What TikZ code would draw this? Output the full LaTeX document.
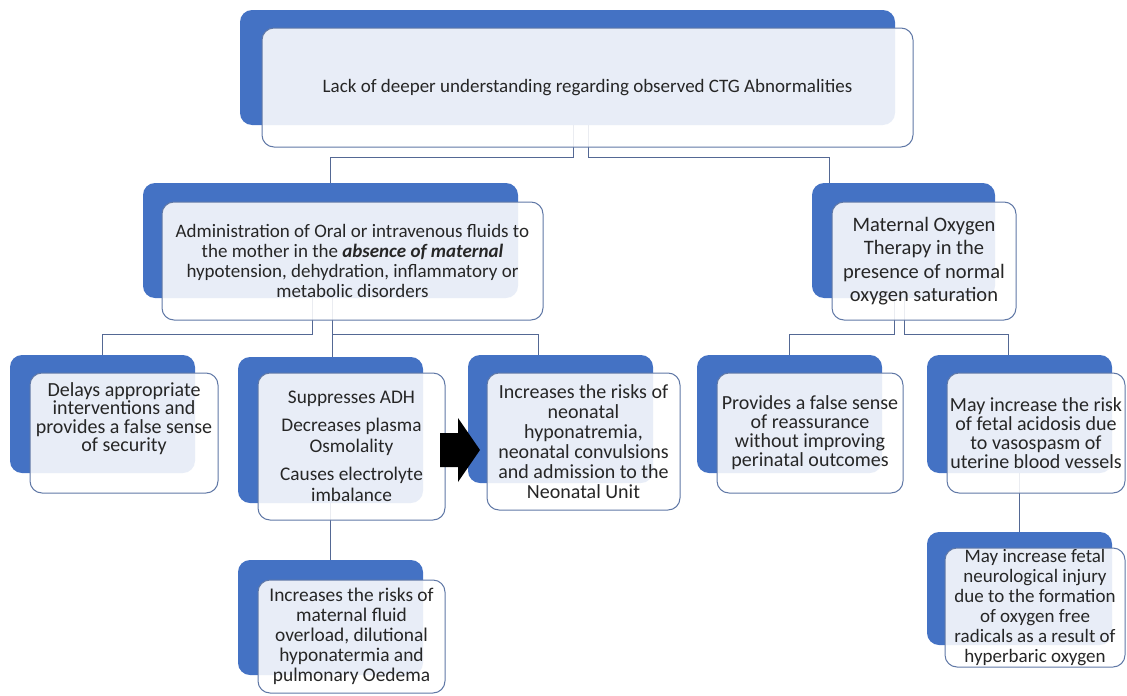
\documentclass[tikz,border=0pt]{standalone}
\usepackage{fontspec}
\setmainfont{Carlito}

\definecolor{cardblue}{RGB}{68,114,196}
\definecolor{cardline}{RGB}{96,120,166}
\definecolor{linkline}{RGB}{84,104,148}
\definecolor{inktext}{RGB}{38,38,38}

\pgfdeclarelayer{links}
\pgfsetlayers{links,main}

\tikzset{
  backbox/.style={rectangle, rounded corners=12pt, fill=cardblue, inner sep=0pt},
  frontbox/.style={rectangle, rounded corners=12pt, draw=cardline, line width=1pt,
    fill=white, fill opacity=0.88, text opacity=1, text=inktext, align=center, inner sep=2pt},
  link/.style={draw=linkline, line width=1pt},
}

\begin{document}
\begin{tikzpicture}[x=1pt, y=-1pt, line join=round]

  %% ════ top card ════
  \node[backbox, minimum width=655pt, minimum height=115pt] (topB) at (567.5,67.5) {};
  \node[frontbox, minimum width=651pt, minimum height=119pt, font=\fontsize{19}{22}\selectfont] (top) at (587.5,87.5)
    {Lack of deeper understanding regarding observed CTG Abnormalities};

  %% ════ second row ════
  \node[backbox, minimum width=375pt, minimum height=115pt] (fluidsB) at (330.5,240.5) {};
  \node[frontbox, minimum width=381pt, minimum height=118pt, font=\fontsize{19}{20}\selectfont] (fluids) at (352.5,261)
    {Administration of Oral or intravenous fluids to\\ the mother in the \textbf{\textit{absence of maternal}}\\
     hypotension, dehydration, inflammatory or\\ metabolic disorders};

  \node[backbox, minimum width=183pt, minimum height=115pt] (oxygenB) at (903.5,240.5) {};
  \node[frontbox, minimum width=184pt, minimum height=118pt, font=\fontsize{20.5}{23.5}\selectfont] (oxygen) at (924,261)
    {Maternal Oxygen\\ Therapy in the\\ presence of normal\\ oxygen saturation};

  %% ════ third row ════
  % text sits high in this card: an empty last line lifts it
  \node[backbox, minimum width=185pt, minimum height=118pt] (delaysB) at (102.5,414) {};
  \node[frontbox, minimum width=188pt, minimum height=120pt, font=\fontsize{20}{18.5}\selectfont] (delays) at (124,433)
    {Delays appropriate\\ interventions and\\ provides a false sense\\ of security\\[13pt]\mbox{}};

  \node[backbox, minimum width=185pt, minimum height=146pt] (adhB) at (330.5,430) {};
  \node[frontbox, minimum width=187pt, minimum height=147pt, font=\fontsize{19.3}{21}\selectfont] (adh) at (351.5,446.5)
    {Suppresses ADH\\[7pt] Decreases plasma\\ Osmolality\\[7pt] Causes electrolyte\\ imbalance};

  \node[backbox, minimum width=185pt, minimum height=128pt] (neoB) at (560.5,419) {};
  \node[frontbox, minimum width=193pt, minimum height=137pt, font=\fontsize{20}{20}\selectfont] (neo) at (583.5,441.5)
    {Increases the risks of\\ neonatal\\ hyponatremia,\\ neonatal convulsions\\ and admission to the\\ Neonatal Unit};

  \node[backbox, minimum width=185pt, minimum height=118pt] (reassureB) at (789.5,414) {};
  \node[frontbox, minimum width=186pt, minimum height=120pt, font=\fontsize{20}{19}\selectfont] (reassure) at (810,433)
    {Provides a false sense\\ of reassurance\\ without improving\\ perinatal outcomes};

  \node[backbox, minimum width=185pt, minimum height=118pt] (acidB) at (1019.5,414) {};
  \node[frontbox, minimum width=178pt, minimum height=120pt, font=\fontsize{20}{19}\selectfont] (acid) at (1036,433)
    {May increase the risk\\ of fetal acidosis due\\ to vasospasm of\\ uterine blood vessels};

  %% ════ bottom row ════
  \node[backbox, minimum width=185pt, minimum height=115pt] (fluidriskB) at (330.5,617.5) {};
  \node[frontbox, minimum width=187pt, minimum height=113pt, font=\fontsize{19.4}{20}\selectfont] (fluidrisk) at (351.5,636.5)
    {Increases the risks of\\ maternal fluid\\ overload, dilutional\\ hyponatermia and\\ pulmonary Oedema};

  \node[backbox, minimum width=185pt, minimum height=113pt] (neuroB) at (1019.5,588.5) {};
  \node[frontbox, minimum width=180pt, minimum height=119pt, inner sep=0pt, font=\fontsize{19}{20}\selectfont] (neuro) at (1035,607.5)
    {May increase fetal\\ neurological injury\\ due to the formation\\ of oxygen free\\ radicals as a result of\\ hyperbaric oxygen};

  %% ════ connectors (behind the cards) ════
  \begin{pgfonlayer}{links}
    \draw[link] ([xshift=5.5pt]topB.south) -- ++(0,32) -| (fluidsB.north);
    \draw[link] ([xshift=20.5pt]topB.south) -- ++(0,32) -| ([xshift=-74.5pt]oxygenB.north);

    \draw[link] ([xshift=-18.5pt]fluidsB.south) -- ++(0,36) -| (delaysB.north);
    \draw[link] ([xshift=1.5pt]fluidsB.south) -- ([xshift=1.5pt]adhB.north);
    \draw[link] ([xshift=1.5pt]fluidsB.south) ++(0,36) -| ([xshift=-22.5pt]neoB.north);

    \draw[link] ([xshift=-9.5pt]oxygenB.south) -- ++(0,36) -| (reassureB.north);
    \draw[link] ([xshift=0.5pt]oxygenB.south) -- ++(0,36) -| ([xshift=-11.5pt]acidB.north);

    \draw[link] (adhB.south) -- (fluidriskB.north);
    \draw[link] (acidB.south) -- (neuroB.north);
  \end{pgfonlayer}

  %% ════ block arrow adh -> neo ════
  \fill[black] (440,433) -- (458,433) -- (458,418) -- (480,450) -- (458,482) -- (458,467) -- (440,467) -- cycle;

  % fix the canvas
  \pgfresetboundingbox
  \path[use as bounding box] (0,0) rectangle (1127,696);
\end{tikzpicture}
\end{document}
